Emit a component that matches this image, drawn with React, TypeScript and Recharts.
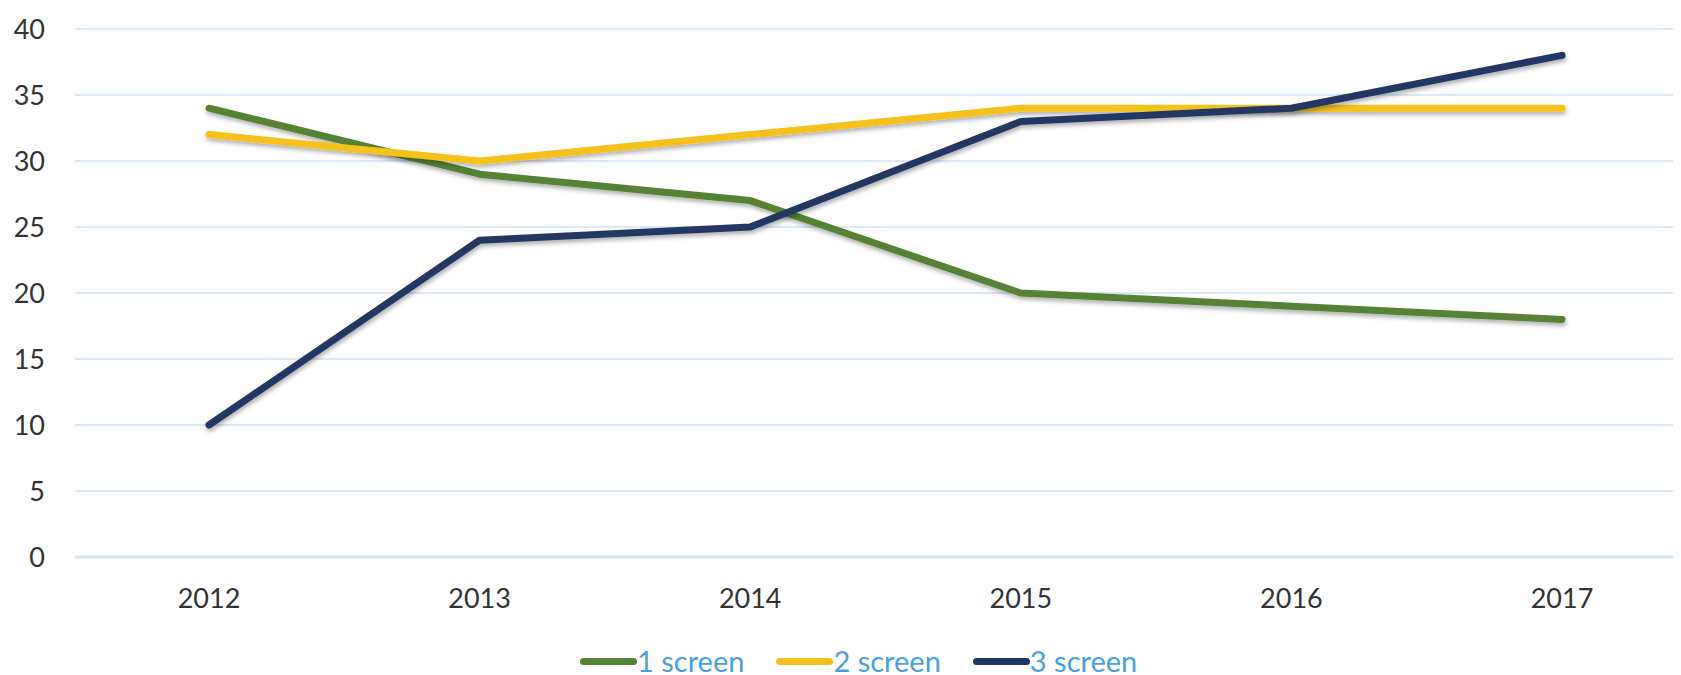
import { LineChart, Line, XAxis, YAxis, CartesianGrid } from "recharts";

const years = ["2012", "2013", "2014", "2015", "2016", "2017"];
const oneScreen = [34, 29, 27, 20, 19, 18];
const twoScreen = [32, 30, 32, 34, 34, 34];
const threeScreen = [10, 24, 25, 33, 34, 38];
const yTicks = [0, 5, 10, 15, 20, 25, 30, 35, 40];

const data = years.map((year, i) => ({
  year,
  one: oneScreen[i],
  two: twoScreen[i],
  three: threeScreen[i],
}));

const SERIES = [
  { key: "one", name: "1 screen", color: "#548235" },
  { key: "two", name: "2 screen", color: "#F5C21B" },
  { key: "three", name: "3 screen", color: "#203864" },
];

const FONT = "Lato, 'Open Sans', sans-serif";

// legend sits below the x axis, outside the chart so it doesn't shrink the plot
function ChartLegend() {
  return (
    <div
      style={{
        position: "absolute",
        top: 637,
        left: 0,
        width: 1673,
        height: 32,
        display: "flex",
        alignItems: "center",
        fontFamily: FONT,
        fontSize: 29,
        lineHeight: "32px",
        color: "#4A9FE3",
        paddingLeft: 572,
        boxSizing: "border-box",
      }}
    >
      {SERIES.map((s) => (
        <div
          key={s.key}
          style={{ display: "flex", alignItems: "center", marginRight: 32 }}
        >
          <span
            style={{
              display: "inline-block",
              width: 57,
              height: 7,
              borderRadius: 3.5,
              background: s.color,
            }}
          />
          <span>{s.name}</span>
        </div>
      ))}
    </div>
  );
}

export default function App() {
  return (
    <div style={{ position: "relative", width: 1673, height: 667 }}>
      <LineChart
        width={1673}
        height={667}
        data={data}
        margin={{ top: 21, right: 0, bottom: 68, left: 0 }}
      >
        <defs>
          <filter id="shadow" x="-5%" y="-20%" width="110%" height="140%">
            <feDropShadow dx="1" dy="3" stdDeviation="2" floodColor="#000" floodOpacity="0.3" />
          </filter>
        </defs>
        <CartesianGrid vertical={false} stroke="#DCE9F7" strokeWidth={2} />
        <XAxis
          dataKey="year"
          padding={{ left: 134, right: 119 }}
          axisLine={{ stroke: "#D6E6F6", strokeWidth: 3 }}
          tickLine={false}
          tickSize={0}
          tickMargin={32}
          height={50}
          tick={{ fill: "#333333", fontSize: 27, fontFamily: FONT }}
        />
        <YAxis
          domain={[0, 40]}
          ticks={yTicks}
          width={67}
          axisLine={false}
          tickLine={false}
          tickSize={0}
          tickMargin={30}
          tick={{ fill: "#333333", fontSize: 27, fontFamily: FONT }}
        />
        {SERIES.map((s) => (
          <Line
            key={s.key}
            type="linear"
            dataKey={s.key}
            name={s.name}
            stroke={s.color}
            strokeWidth={7}
            strokeLinecap="round"
            strokeLinejoin="round"
            dot={false}
            activeDot={false}
            filter="url(#shadow)"
            isAnimationActive={false}
          />
        ))}
      </LineChart>
      <ChartLegend />
    </div>
  );
}
